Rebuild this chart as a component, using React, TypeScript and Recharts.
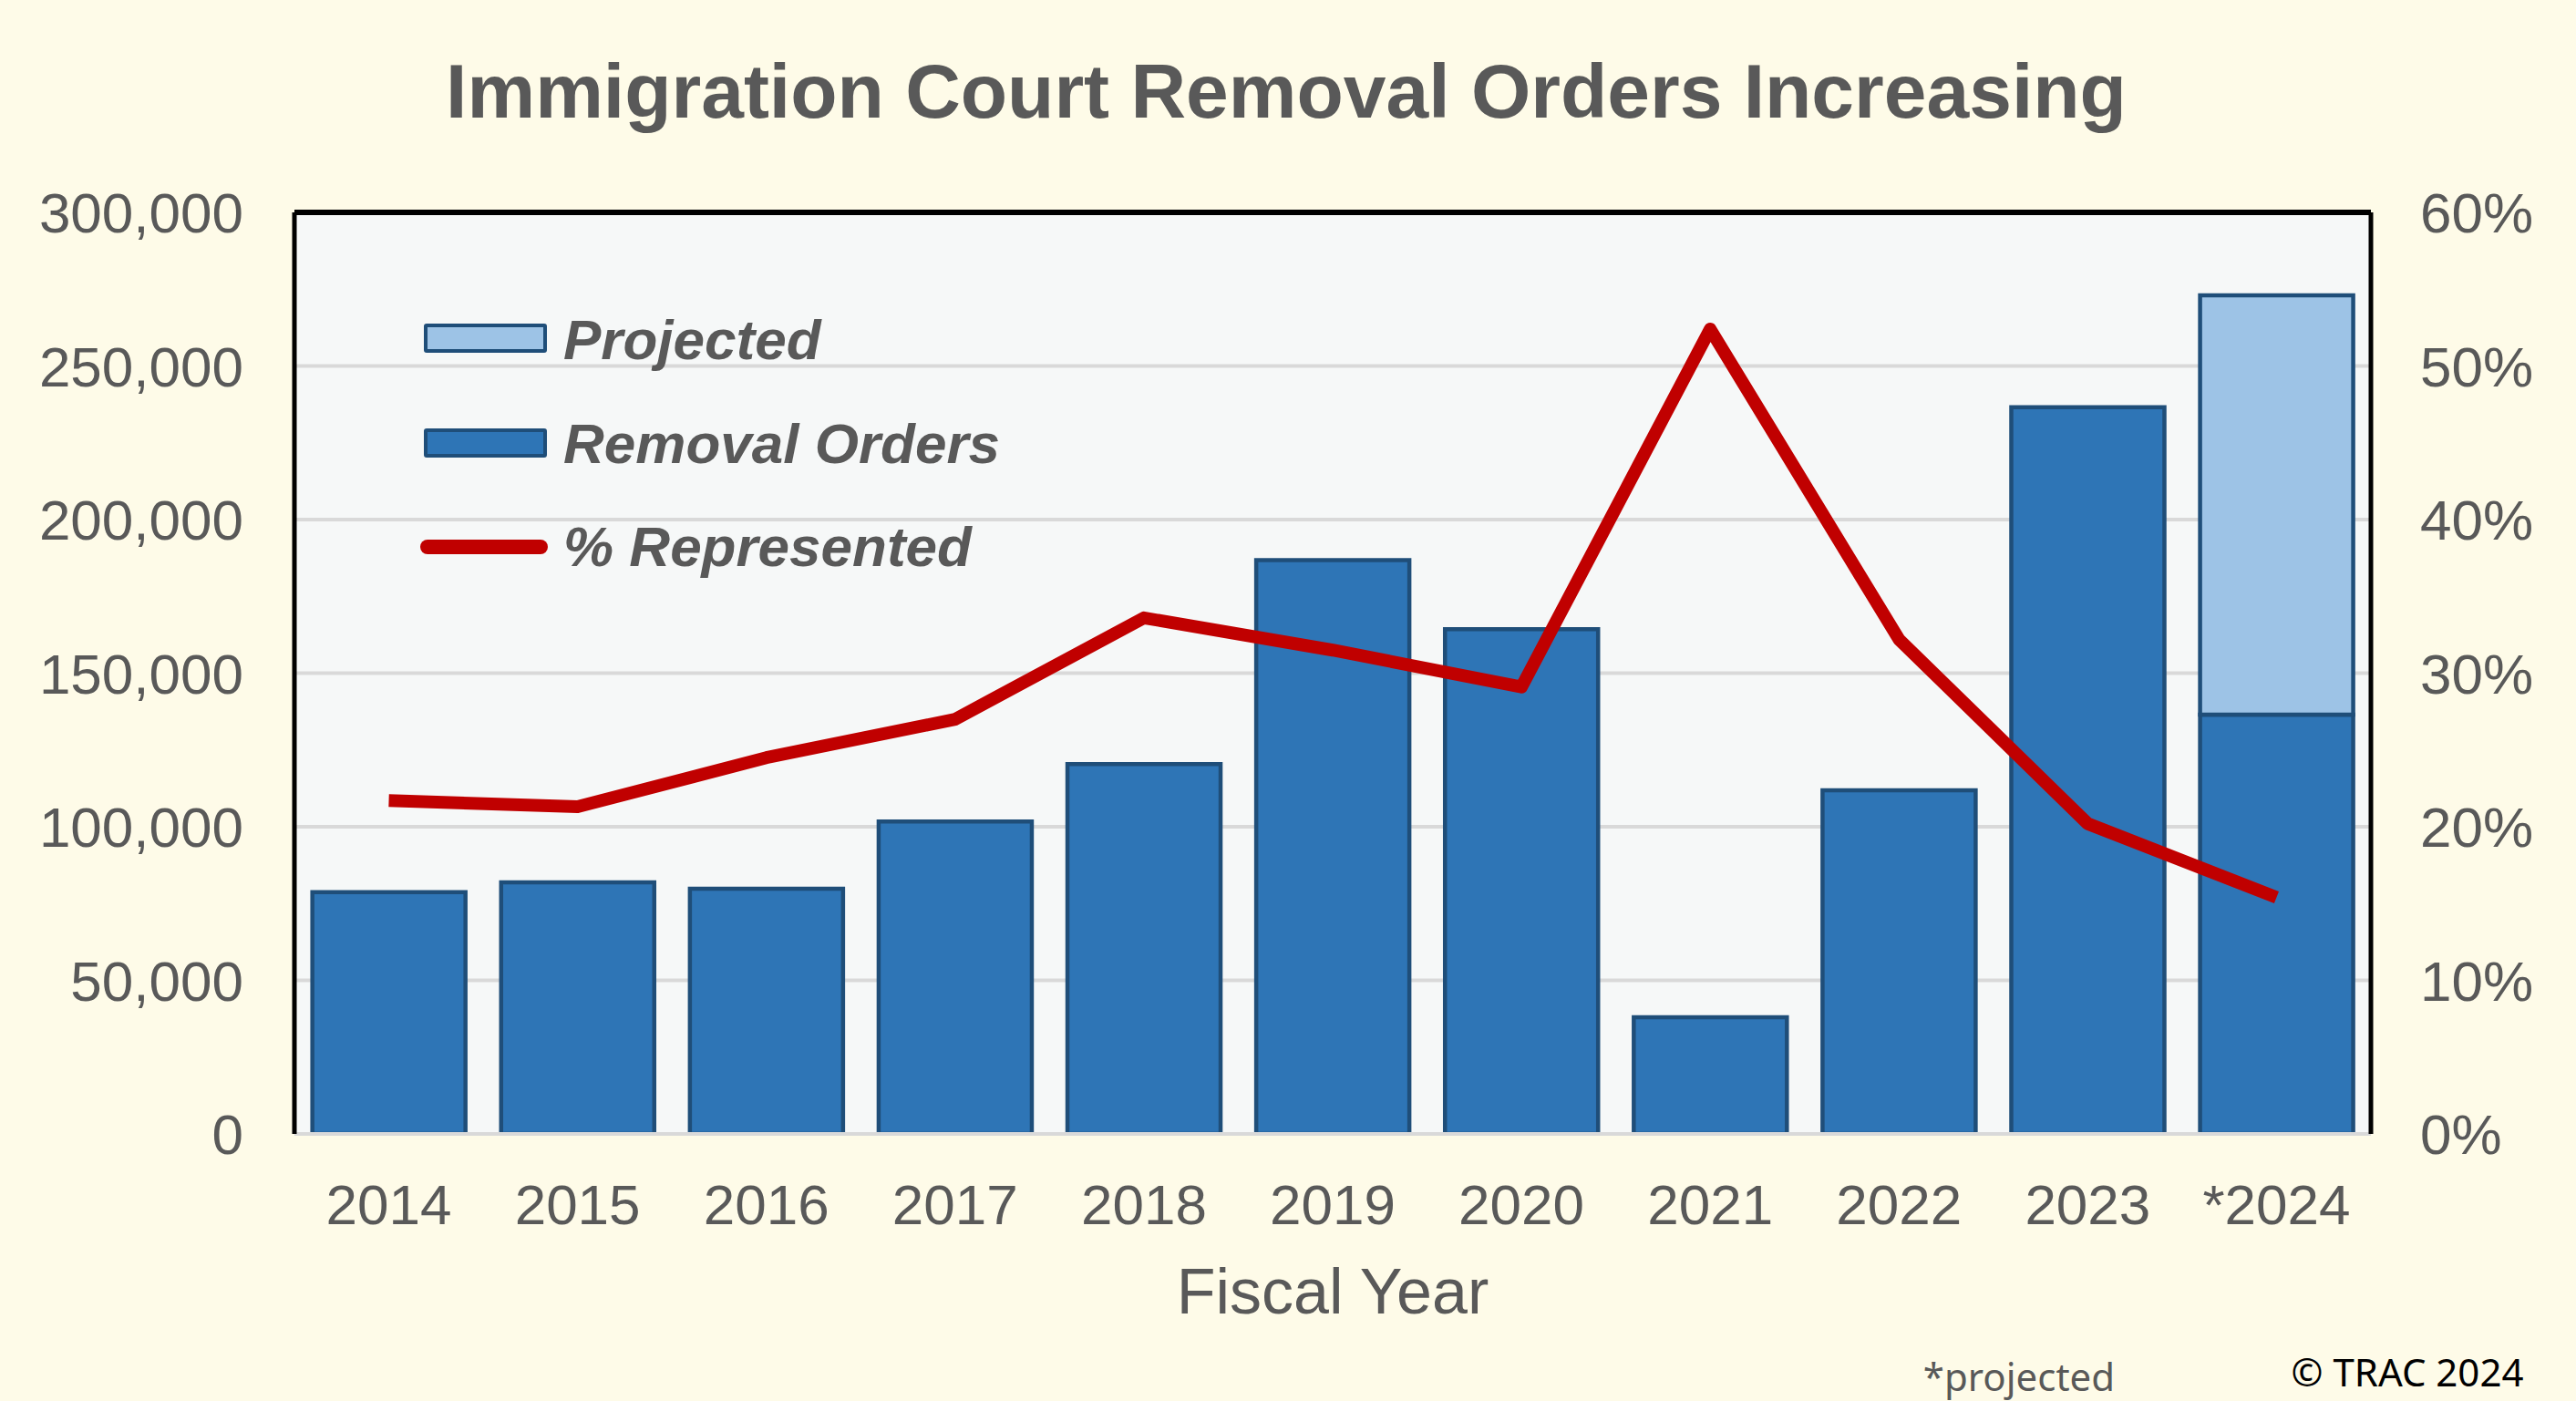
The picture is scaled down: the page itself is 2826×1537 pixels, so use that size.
import React from 'react';
import {
  ComposedChart,
  Bar,
  Line,
  XAxis,
  YAxis,
  CartesianGrid,
  ReferenceLine,
} from 'recharts';

const years = ['2014', '2015', '2016', '2017', '2018', '2019', '2020', '2021', '2022', '2023', '*2024'];
const removalOrders = [78700, 81900, 79800, 101700, 120400, 186800, 164300, 38000, 111900, 236600, 136500];
const projected = [0, 0, 0, 0, 0, 0, 0, 0, 0, 0, 136500];
const represented = [0.217, 0.213, 0.245, 0.27, 0.336, 0.315, 0.291, 0.524, 0.322, 0.202, 0.154];
const leftTicks = [0, 50000, 100000, 150000, 200000, 250000, 300000];
const rightTicks = [0, 0.1, 0.2, 0.3, 0.4, 0.5, 0.6];

const data = years.map((y, i) => ({
  year: y,
  removal: removalOrders[i],
  projected: projected[i],
  represented: represented[i],
}));

const W = 2826;
const H = 1537;
const PLOT_LEFT = 323;
const PLOT_RIGHT = 2601;
const PLOT_TOP = 233;
const PLOT_BOTTOM = 1244;

const FONT = '"Liberation Sans", Arial, Helvetica, sans-serif';
const GRAY = '#595959';
const BAR_FILL = '#2E75B6';
const PROJ_FILL = '#9DC3E6';
const BAR_STROKE = '#1F4E79';
const LINE_RED = '#C00000';

const abs = (x: number, y: number): React.CSSProperties => ({
  position: 'absolute',
  left: x,
  top: y,
  transform: 'translate(-50%, -50%)',
  whiteSpace: 'nowrap',
  lineHeight: 1,
});

export default function App() {
  return (
    <div
      style={{
        position: 'absolute',
        left: 0,
        top: 0,
        width: W,
        height: H,
        background: '#FEFBE8',
        overflow: 'hidden',
        fontFamily: FONT,
      }}
    >
      <ComposedChart
        width={W}
        height={H}
        data={data}
        margin={{ top: PLOT_TOP, right: 0, left: 0, bottom: 0 }}
        barCategoryGap="9.5%"
      >
        <CartesianGrid
          vertical={false}
          horizontal={true}
          stroke="#D9D9D9"
          strokeWidth={4}
          fill="#F6F8F8"
          yAxisId="left"
        />
        <XAxis
          dataKey="year"
          height={H - PLOT_BOTTOM}
          tickLine={false}
          tickSize={0}
          tickMargin={55}
          axisLine={{ stroke: '#D9D9D9', strokeWidth: 4 }}
          tick={{ fill: GRAY, fontSize: 62, fontFamily: FONT }}
          interval={0}
        />
        <YAxis
          yAxisId="left"
          orientation="left"
          width={PLOT_LEFT}
          domain={[0, 300000]}
          ticks={leftTicks}
          tickLine={false}
          tickSize={0}
          tickMargin={56}
          axisLine={{ stroke: '#000000', strokeWidth: 5 }}
          tick={{ fill: GRAY, fontSize: 62, fontFamily: FONT }}
          tickFormatter={(v: number) => v.toLocaleString('en-US')}
          allowDataOverflow
        />
        <YAxis
          yAxisId="right"
          orientation="right"
          width={W - PLOT_RIGHT}
          domain={[0, 0.6]}
          ticks={rightTicks}
          tickLine={false}
          tickSize={0}
          tickMargin={54}
          axisLine={{ stroke: '#000000', strokeWidth: 5 }}
          tick={{ fill: GRAY, fontSize: 62, fontFamily: FONT }}
          tickFormatter={(v: number) => `${Math.round(v * 100)}%`}
        />
        <ReferenceLine yAxisId="left" y={300000} stroke="#000000" strokeWidth={6} />
        <Bar
          yAxisId="left"
          dataKey="removal"
          stackId="a"
          fill={BAR_FILL}
          stroke={BAR_STROKE}
          strokeWidth={4.5}
          isAnimationActive={false}
        />
        <Bar
          yAxisId="left"
          dataKey="projected"
          stackId="a"
          fill={PROJ_FILL}
          stroke={BAR_STROKE}
          strokeWidth={4.5}
          isAnimationActive={false}
        />
        <Line
          yAxisId="right"
          type="linear"
          dataKey="represented"
          stroke={LINE_RED}
          strokeWidth={14}
          dot={false}
          activeDot={false}
          strokeLinejoin="round"
          isAnimationActive={false}
        />
      </ComposedChart>

      {/* Title */}
      <div style={{ ...abs(1411, 100), fontSize: 84, fontWeight: 'bold', color: GRAY }}>
        Immigration Court Removal Orders Increasing
      </div>

      {/* Legend */}
      <div style={{ position: 'absolute', left: 465, top: 355, width: 135, height: 32, background: PROJ_FILL, border: `4px solid ${BAR_STROKE}`, boxSizing: 'border-box', borderRadius: 3 }} />
      <div style={{ position: 'absolute', left: 618, top: 373, transform: 'translateY(-50%)', fontSize: 62, fontWeight: 'bold', fontStyle: 'italic', color: GRAY, lineHeight: 1, whiteSpace: 'nowrap' }}>
        Projected
      </div>
      <div style={{ position: 'absolute', left: 465, top: 470, width: 135, height: 32, background: BAR_FILL, border: `4px solid ${BAR_STROKE}`, boxSizing: 'border-box', borderRadius: 3 }} />
      <div style={{ position: 'absolute', left: 618, top: 487, transform: 'translateY(-50%)', fontSize: 62, fontWeight: 'bold', fontStyle: 'italic', color: GRAY, lineHeight: 1, whiteSpace: 'nowrap' }}>
        Removal Orders
      </div>
      <div style={{ position: 'absolute', left: 461, top: 592, width: 140, height: 16, background: LINE_RED, borderRadius: 8 }} />
      <div style={{ position: 'absolute', left: 618, top: 600, transform: 'translateY(-50%)', fontSize: 62, fontWeight: 'bold', fontStyle: 'italic', color: GRAY, lineHeight: 1, whiteSpace: 'nowrap' }}>
        % Represented
      </div>

      {/* Axis title */}
      <div style={{ ...abs(1462, 1417), fontSize: 70, color: GRAY }}>Fiscal Year</div>

      {/* Footer */}
      <div style={{ ...abs(2215, 1510), fontSize: 42, color: GRAY, fontFamily: '"Noto Sans", sans-serif' }}>*projected</div>
      <div style={{ ...abs(2641, 1505), fontSize: 42, color: '#000000', fontFamily: '"Noto Sans", sans-serif' }}>© TRAC 2024</div>
    </div>
  );
}
